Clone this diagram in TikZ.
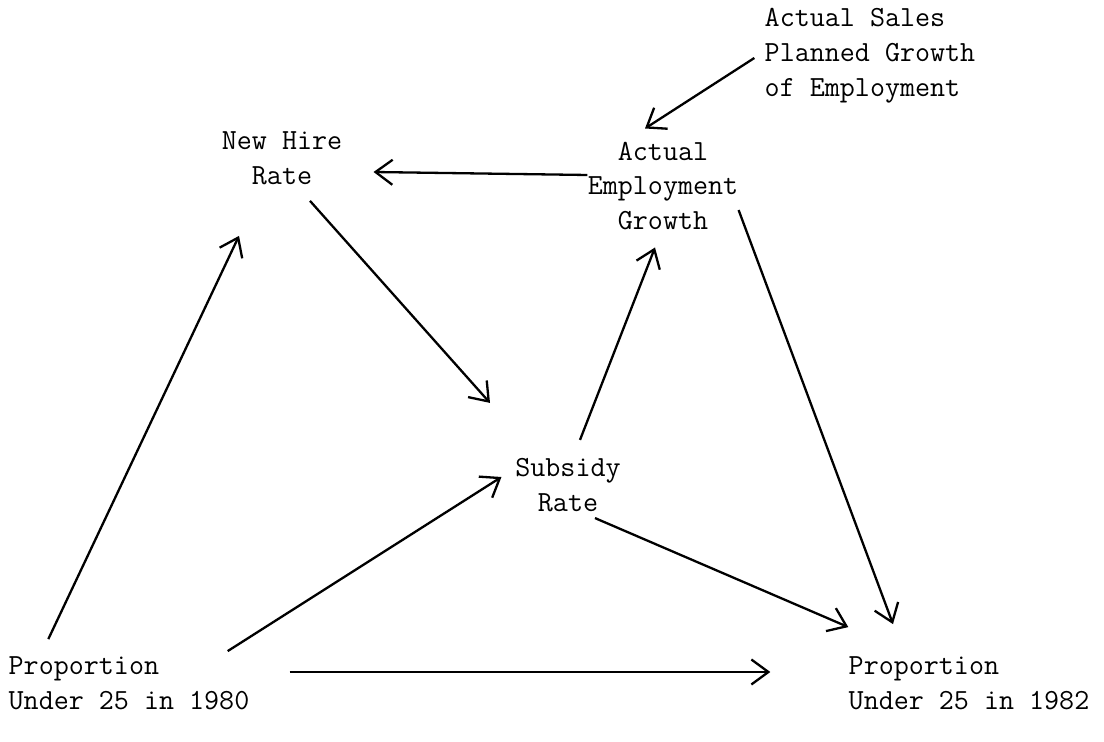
\documentclass[tikz,border=0pt]{standalone}
\usepackage{fontspec}
\usepackage{tikz}
\usetikzlibrary{arrows.meta}

\begin{document}
\begin{tikzpicture}[
  x=0.5pt, y=-0.5pt,
  var/.style={inner sep=0pt, font=\ttfamily\fontsize{14.6}{17.4}\selectfont},
  arrow/.style={-{Straight Barb[length=8.5pt,width=12.5pt]}, line width=1.15pt, black}
]
  \useasboundingbox (0,0) rectangle (1104,742);
  \node[var, align=left]   (sales)   at (870,56)  {Actual Sales\\Planned Growth\\of Employment};
  \node[var, align=center] (hire)    at (282,158) {New Hire\\Rate};
  \node[var, align=center] (emp)     at (663,186) {Actual\\Employment\\Growth};
  \node[var, align=center] (subsidy) at (568,485) {Subsidy\\Rate};
  \node[var, align=left]   (p80)     at (129,683) {Proportion\\Under 25 in 1980};
  \node[var, align=left]   (p82)     at (969,683) {Proportion\\Under 25 in 1982};
  \draw[arrow] ([shift={(-10,2)}]sales.west) -- ([shift={(-18,-13)}]emp.north);
  \draw[arrow] ([shift={(0,-11)}]emp.west) -- ([shift={(31,14)}]hire.east);
  \draw[arrow] ([shift={(28,16)}]hire.south) -- ([shift={(-78,-55)}]subsidy.north);
  \draw[arrow] ([shift={(12,-18)}]subsidy.north) -- ([shift={(-8,17)}]emp.south);
  \draw[arrow] ([shift={(40,-17)}]p80.north west) -- ([shift={(-43,51)}]hire.south);
  \draw[arrow] ([shift={(-22,-5)}]p80.north east) -- ([shift={(-13.5,-8)}]subsidy.west);
  \draw[arrow] ([shift={(40,-11)}]p80.east) -- ([shift={(-78,-11)}]p82.west);
  \draw[arrow] ([shift={(27,6)}]subsidy.south) -- ([shift={(0,-29)}]p82.north west);
  \draw[arrow] ([shift={(0,24)}]emp.east) -- ([shift={(-76,-32)}]p82.north);
\end{tikzpicture}
\end{document}
